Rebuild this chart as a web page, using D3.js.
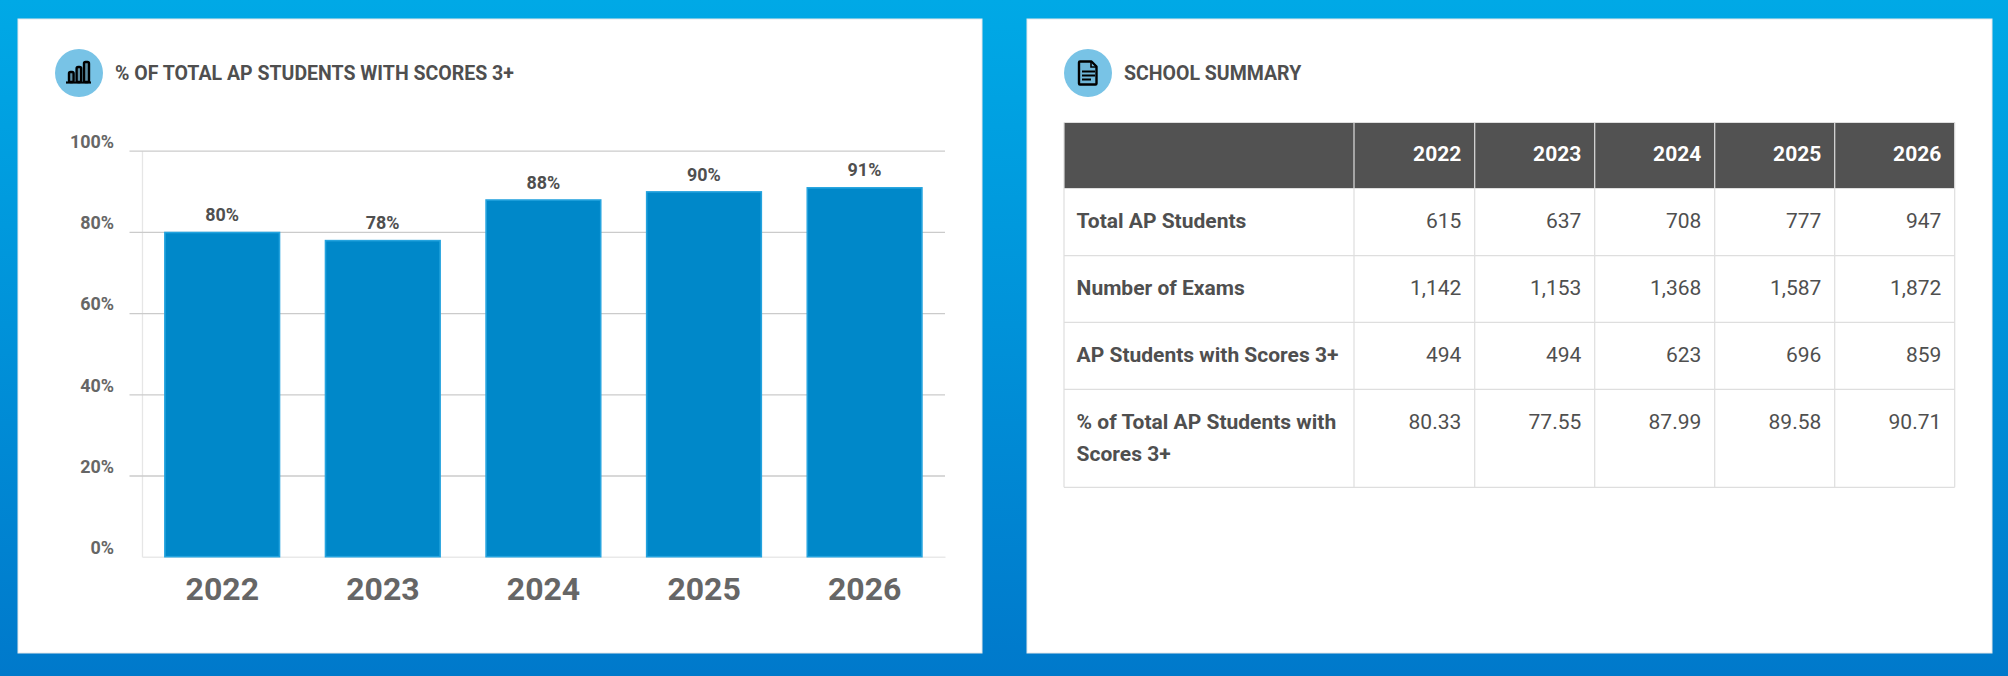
<!DOCTYPE html>
<html>
<head>
<meta charset="utf-8">
<script src="https://cdn.jsdelivr.net/npm/d3@7"></script>
<style>
  html, body { margin: 0; padding: 0; background: #0090d8; }
  svg { display: block; font-family: Roboto, sans-serif; }
</style>
</head>
<body>
<svg id="chart"></svg>
<script>
const years = ["2022", "2023", "2024", "2025", "2026"];
const barValues = [80, 78, 88, 90, 91];
const yTicks = [0, 20, 40, 60, 80, 100];
const rowLabels = [
  ["Total AP Students"],
  ["Number of Exams"],
  ["AP Students with Scores 3+"],
  ["% of Total AP Students with", "Scores 3+"]
];
const totalStudents = [615, 637, 708, 777, 947];
const numExams = [1142, 1153, 1368, 1587, 1872];
const studentsScores = [494, 494, 623, 696, 859];
const pctScores = [80.33, 77.55, 87.99, 89.58, 90.71];

const width = 2008, height = 676;
const svg = d3.select("#chart").attr("width", width).attr("height", height);

const defs = svg.append("defs");
const grad = defs.append("linearGradient").attr("id", "bg")
  .attr("x1", 0).attr("y1", 0).attr("x2", 0).attr("y2", 1);
grad.append("stop").attr("offset", "0%").attr("stop-color", "#00a9e6");
grad.append("stop").attr("offset", "100%").attr("stop-color", "#0079cb");
svg.append("rect").attr("width", width).attr("height", height).attr("fill", "url(#bg)");

// white cards
const panels = [[18, 19, 964, 634], [1027, 19, 965, 634]];
svg.selectAll(".panel").data(panels).enter().append("rect")
  .attr("class", "panel")
  .attr("x", d => d[0]).attr("y", d => d[1])
  .attr("width", d => d[2]).attr("height", d => d[3])
  .attr("fill", "#fff").attr("stroke", "#e4e8ea").attr("stroke-width", 1);

// panel headers
const titleColor = "#4f4f4f";
function header(cx, tx, label) {
  svg.append("circle").attr("cx", cx).attr("cy", 73).attr("r", 24).attr("fill", "#78c3e6");
  svg.append("text").attr("x", tx).attr("y", 79.5)
    .attr("font-size", 19.5).attr("font-weight", 700).attr("fill", titleColor)
    .text(label);
}
header(79, 115, "% OF TOTAL AP STUDENTS WITH SCORES 3+");
header(1088, 1124, "SCHOOL SUMMARY");

// bar icon
const iconBars = svg.append("g").attr("fill", "#5c8da3").attr("stroke", "#000").attr("stroke-width", 2.4);
[[69, 72, 4.6, 10], [76.6, 67, 4.6, 15], [84, 62, 5, 20]].forEach(b => {
  iconBars.append("rect").attr("x", b[0]).attr("y", b[1]).attr("width", b[2]).attr("height", b[3]).attr("rx", 1.5);
});
svg.append("line").attr("x1", 66).attr("x2", 91).attr("y1", 82.5).attr("y2", 82.5)
  .attr("stroke", "#000").attr("stroke-width", 2.2);

// document icon
svg.append("path")
  .attr("d", "M1080 61.5h11.5l5 5v17a1 1 0 0 1-1 1h-15.5a1 1 0 0 1-1-1v-21a1 1 0 0 1 1-1z")
  .attr("fill", "#6fb6d8").attr("stroke", "#000").attr("stroke-width", 2.4).attr("stroke-linejoin", "round");
svg.append("path").attr("d", "M1091 61.5v5.5h5.5").attr("fill", "none").attr("stroke", "#000").attr("stroke-width", 1.6);
[[71.5, 13], [75.5, 13], [79.5, 9]].forEach(l => {
  svg.append("line").attr("x1", 1082).attr("x2", 1082 + l[1]).attr("y1", l[0]).attr("y2", l[0])
    .attr("stroke", "#000").attr("stroke-width", 2);
});

// bar chart
const plot = { left: 142, right: 945, top: 150.7, bottom: 556.7, gridLeft: 129.5 };
const x = d3.scaleBand().domain(years).range([plot.left, plot.right]).paddingInner(0.28).paddingOuter(0.14);
const y = d3.scaleLinear().domain([0, 100]).range([plot.bottom, plot.top]);

const yAxis = svg.append("g")
  .attr("transform", `translate(${plot.left},0)`)
  .call(d3.axisLeft(y).tickValues(yTicks).tickFormat(d => d + "%").tickSize(0));
yAxis.select(".domain").attr("stroke", "#e6e6e6").attr("stroke-width", 1.3);
yAxis.selectAll("text")
  .attr("x", 114 - plot.left).attr("y", -3.2).attr("dy", 0)
  .attr("font-size", 17.92).attr("font-weight", 700).attr("fill", "#666")
  .attr("font-family", "Roboto, sans-serif");
yAxis.selectAll(".tick").filter(d => d > 0).append("line")
  .attr("x1", plot.gridLeft - plot.left).attr("x2", plot.right - plot.left)
  .attr("stroke", "#cbcbcb").attr("stroke-width", 1.3);

const xAxis = svg.append("g")
  .attr("transform", `translate(0,${plot.bottom})`)
  .call(d3.axisBottom(x).tickSize(0));
xAxis.select(".domain").attr("stroke", "#e9e9e9").attr("stroke-width", 1.5);
xAxis.selectAll("text")
  .attr("y", 43.5).attr("dy", 0)
  .attr("font-size", 32).attr("font-weight", 700).attr("fill", "#666")
  .attr("font-family", "Roboto, sans-serif");

svg.selectAll(".bar").data(barValues).enter().append("rect")
  .attr("class", "bar")
  .attr("x", (d, i) => x(years[i]) + 0.4)
  .attr("y", d => y(d) + 0.6)
  .attr("width", x.bandwidth() - 1)
  .attr("height", d => y(0) - y(d) - 0.6)
  .attr("fill", "#0088c9").attr("stroke", "#24a3de").attr("stroke-width", 1.6);

svg.selectAll(".bar-label").data(barValues).enter().append("text")
  .attr("class", "bar-label")
  .attr("x", (d, i) => x(years[i]) + x.bandwidth() / 2 - 0.2)
  .attr("y", d => y(d) - 10.8)
  .attr("text-anchor", "middle")
  .attr("font-size", 17.92).attr("font-weight", 700).attr("fill", "#4f4f4f")
  .text(d => d + "%");

// summary table
const colEdges = [1064, 1354, 1474.7, 1594.7, 1714.7, 1834.7, 1954.7];
const rowEdges = [122.5, 188.5, 255.7, 322.3, 389.3, 487.3];
const fmtInt = d3.format(",");
const fmtPct = d3.format(".2f");
const rowValues = [
  totalStudents.map(fmtInt),
  numExams.map(fmtInt),
  studentsScores.map(fmtInt),
  pctScores.map(fmtPct)
];
const table = svg.append("g");
table.append("rect")
  .attr("x", colEdges[0]).attr("y", rowEdges[0])
  .attr("width", colEdges[6] - colEdges[0]).attr("height", rowEdges[1] - rowEdges[0])
  .attr("fill", "#525252");
const lineColor = "#dedede";
table.selectAll(".hline").data(rowEdges).enter().append("line")
  .attr("class", "hline")
  .attr("x1", colEdges[0]).attr("x2", colEdges[6])
  .attr("y1", d => d).attr("y2", d => d)
  .attr("stroke", lineColor).attr("stroke-width", 1.2);
table.selectAll(".vline").data(colEdges).enter().append("line")
  .attr("class", "vline")
  .attr("x1", d => d).attr("x2", d => d)
  .attr("y1", rowEdges[0]).attr("y2", rowEdges[5])
  .attr("stroke", lineColor).attr("stroke-width", 1.2);

const cellPad = 13.4;
table.selectAll(".year").data(years).enter().append("text")
  .attr("class", "year")
  .attr("x", (d, i) => colEdges[i + 2] - cellPad)
  .attr("y", 161)
  .attr("text-anchor", "end")
  .attr("font-size", 21).attr("font-weight", 700).attr("fill", "#fff")
  .text(d => d);

rowLabels.forEach((lines, r) => {
  const base = rowEdges[r + 1] + 39.5;
  lines.forEach((t, k) => {
    table.append("text")
      .attr("x", colEdges[0] + cellPad - 0.8).attr("y", base + k * 32.6)
      .attr("font-size", 21).attr("font-weight", 700).attr("fill", titleColor)
      .text(t);
  });
  rowValues[r].forEach((v, c) => {
    table.append("text")
      .attr("x", colEdges[c + 2] - cellPad).attr("y", base)
      .attr("text-anchor", "end")
      .attr("font-size", 21).attr("font-weight", 400).attr("fill", titleColor)
      .text(v);
  });
});
</script>
</body>
</html>
